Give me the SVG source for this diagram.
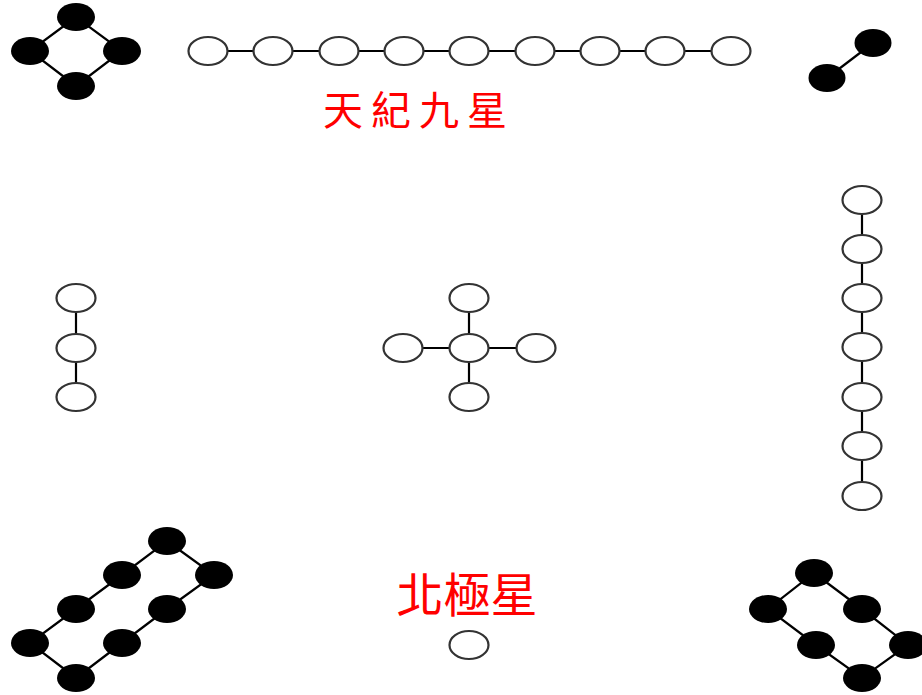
<svg xmlns="http://www.w3.org/2000/svg" width="922" height="695" viewBox="0 0 922 695">
<style>
.e{stroke:#000;stroke-width:2.2;fill:none}
.w{fill:#fff;stroke:#333;stroke-width:2.2}
.b{fill:#000;stroke:none}
.t{fill:#f00;font-family:"Noto Sans CJK TC","Noto Sans CJK SC",sans-serif}
</style>
<rect width="922" height="695" fill="#fff"/>
<g id="connectors">
<path class="e" d="M76,17L30,51L76,86L122,51Z"/>
<path class="e" d="M208,51H731"/>
<path class="e" d="M873,43L827,78"/>
<path class="e" d="M76,298V397"/>
<path class="e" d="M403,348H536M469,298V397"/>
<path class="e" d="M862,200V496"/>
<path class="e" d="M167,541L214,575L167,609L122,643L76,678L30,643L76,609L122,575Z"/>
<path class="e" d="M814,573L862,609L908,645L862,678L816,645L768,609Z"/>
</g>
<g id="n-diamond">
<ellipse class="b" cx="76" cy="17" rx="19" ry="14"/>
<ellipse class="b" cx="30" cy="51" rx="19" ry="14"/>
<ellipse class="b" cx="122" cy="51" rx="19" ry="14"/>
<ellipse class="b" cx="76" cy="86" rx="19" ry="14"/>
</g>
<g id="n-row">
<ellipse class="w" cx="208" cy="51" rx="19.5" ry="14"/>
<ellipse class="w" cx="273" cy="51" rx="19.5" ry="14"/>
<ellipse class="w" cx="339" cy="51" rx="19.5" ry="14"/>
<ellipse class="w" cx="404" cy="51" rx="19.5" ry="14"/>
<ellipse class="w" cx="469" cy="51" rx="19.5" ry="14"/>
<ellipse class="w" cx="535" cy="51" rx="19.5" ry="14"/>
<ellipse class="w" cx="600" cy="51" rx="19.5" ry="14"/>
<ellipse class="w" cx="665" cy="51" rx="19.5" ry="14"/>
<ellipse class="w" cx="731" cy="51" rx="19.5" ry="14"/>
</g>
<g id="n-pair">
<ellipse class="b" cx="873" cy="43" rx="18.5" ry="14"/>
<ellipse class="b" cx="827" cy="78" rx="18.5" ry="14"/>
</g>
<g id="label-top"><text class="t" x="419" y="125" font-size="40" letter-spacing="8" text-anchor="middle">天紀九星</text></g>
<g id="n-left">
<ellipse class="w" cx="76" cy="298" rx="19.5" ry="14"/>
<ellipse class="w" cx="76" cy="348" rx="19.5" ry="14"/>
<ellipse class="w" cx="76" cy="397" rx="19.5" ry="14"/>
</g>
<g id="n-cross">
<ellipse class="w" cx="469" cy="298" rx="19.5" ry="14"/>
<ellipse class="w" cx="403" cy="348" rx="19.5" ry="14"/>
<ellipse class="w" cx="469" cy="348" rx="19.5" ry="14"/>
<ellipse class="w" cx="536" cy="348" rx="19.5" ry="14"/>
<ellipse class="w" cx="469" cy="397" rx="19.5" ry="14"/>
</g>
<g id="n-right">
<ellipse class="w" cx="862" cy="200" rx="19.5" ry="14"/>
<ellipse class="w" cx="862" cy="249" rx="19.5" ry="14"/>
<ellipse class="w" cx="862" cy="298" rx="19.5" ry="14"/>
<ellipse class="w" cx="862" cy="347" rx="19.5" ry="14"/>
<ellipse class="w" cx="862" cy="397" rx="19.5" ry="14"/>
<ellipse class="w" cx="862" cy="446" rx="19.5" ry="14"/>
<ellipse class="w" cx="862" cy="496" rx="19.5" ry="14"/>
</g>
<g id="n-bl">
<ellipse class="b" cx="167" cy="541" rx="19" ry="14"/>
<ellipse class="b" cx="214" cy="575" rx="19" ry="14"/>
<ellipse class="b" cx="122" cy="575" rx="19" ry="14"/>
<ellipse class="b" cx="76" cy="609" rx="19" ry="14"/>
<ellipse class="b" cx="167" cy="609" rx="19" ry="14"/>
<ellipse class="b" cx="30" cy="643" rx="19" ry="14"/>
<ellipse class="b" cx="122" cy="643" rx="19" ry="14"/>
<ellipse class="b" cx="76" cy="678" rx="19" ry="14"/>
</g>
<g id="n-br">
<ellipse class="b" cx="814" cy="573" rx="19" ry="14"/>
<ellipse class="b" cx="768" cy="609" rx="19" ry="14"/>
<ellipse class="b" cx="862" cy="609" rx="19" ry="14"/>
<ellipse class="b" cx="816" cy="645" rx="19" ry="14"/>
<ellipse class="b" cx="908" cy="645" rx="19" ry="14"/>
<ellipse class="b" cx="862" cy="678" rx="19" ry="14"/>
</g>
<g id="label-bottom"><text class="t" x="467" y="612" font-size="47" text-anchor="middle">北極星</text></g>
<g id="n-polaris"><ellipse class="w" cx="469" cy="645" rx="19.5" ry="14"/></g>
</svg>
